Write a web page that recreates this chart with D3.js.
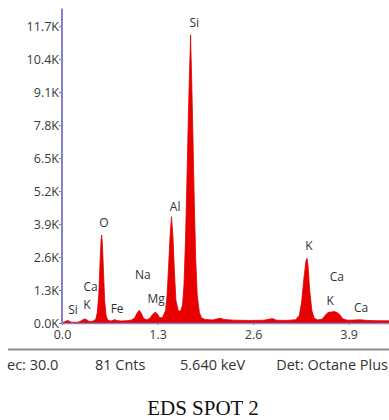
<!DOCTYPE html>
<html>
<head>
<meta charset="utf-8">
<script src="https://cdn.jsdelivr.net/npm/d3@7"></script>
<style>
  html, body { margin: 0; padding: 0; background: #fff; }
  svg { display: block; }
</style>
</head>
<body>
<svg id="chart" width="389" height="420"></svg>
<script>
// EDS spectrum: energy (keV) and counts
const energyKeV = [
  0.00, 0.03, 0.06, 0.08, 0.10, 0.13, 0.18, 0.23, 0.27, 0.30, 0.33, 0.37, 0.42, 0.46,
  0.48, 0.50, 0.515, 0.53, 0.54, 0.55, 0.565, 0.58, 0.60, 0.62, 0.66, 0.70, 0.72, 0.74,
  0.80, 0.88, 0.95, 0.99, 1.02, 1.05, 1.08, 1.11, 1.15, 1.19, 1.23, 1.27, 1.30, 1.33,
  1.37, 1.41, 1.43, 1.45, 1.47, 1.49, 1.51, 1.53, 1.55, 1.58, 1.61, 1.64, 1.66, 1.68,
  1.70, 1.72, 1.735, 1.745, 1.75, 1.755, 1.765, 1.78, 1.80, 1.82, 1.84, 1.87, 1.90, 1.95,
  2.05, 2.12, 2.16, 2.20, 2.35, 2.55, 2.75, 2.83, 2.87, 2.92, 3.05, 3.18, 3.23, 3.26,
  3.29, 3.32, 3.335, 3.35, 3.37, 3.40, 3.43, 3.48, 3.54, 3.58, 3.62, 3.66, 3.70, 3.74,
  3.78, 3.82, 3.88, 4.00, 4.05, 4.15, 4.30, 4.45, 4.60
];
const counts = [
  0, 40, 80, 100, 70, 30, 25, 40, 100, 160, 140, 60, 70, 150,
  400, 1100, 2200, 3200, 3470, 3100, 2000, 900, 300, 120, 80, 110, 140, 100,
  80, 90, 120, 200, 380, 500, 380, 180, 130, 170, 330, 430, 350, 200,
  230, 500, 1100, 2200, 3400, 4190, 3400, 2000, 900, 500, 450, 700, 1500, 3200,
  5600, 8200, 9900, 10800, 11360, 10700, 9600, 7600, 4800, 2500, 1100, 400, 200, 140,
  120, 170, 190, 140, 110, 100, 110, 160, 170, 110, 100, 130, 300, 800,
  1700, 2450, 2550, 2200, 1300, 500, 200, 120, 150, 300, 410, 430, 450, 420,
  330, 170, 110, 120, 130, 100, 90, 85, 80
];

// Axis ticks
const yTicks = [0, 1300, 2600, 3900, 5200, 6500, 7800, 9100, 10400, 11700];
const xTicks = [0.0, 1.3, 2.6, 3.9];

// Element line labels: name, energy position (keV), height (counts)
const peakNames  = ["Si", "K", "Ca", "O", "Fe", "Na", "Mg", "Al", "Si", "K", "Ca", "K", "Ca"];
const peakKeV    = [0.15, 0.34, 0.39, 0.57, 0.75, 1.10, 1.28, 1.54, 1.80, 3.36, 3.74, 3.65, 4.07];
const peakCounts = [513, 710, 1420, 3980, 590, 1930, 985, 4610, 11850, 3075, 1815, 905, 630];

// Acquisition status line (last item is right-aligned to the edge)
const statusTexts = ["ec: 30.0", "81 Cnts", "5.640 keV", "Det: Octane Plus"];
const statusX = [7, 95, 180, 388];
const statusAnchor = ["start", "start", "start", "end"];

const title = "EDS SPOT 2";

const svg = d3.select("#chart");
const x = d3.scaleLinear().domain([0, 4.45]).range([62, 389]);
const y = d3.scaleLinear().domain([0, 12400]).range([323, 8.5]);

const spectrum = energyKeV.map((e, i) => ({ e, c: counts[i] }));

// Filled spectrum
const area = d3.area()
  .x(d => x(d.e))
  .y0(y(0))
  .y1(d => y(d.c));
svg.append("path")
  .datum(spectrum)
  .attr("d", area)
  .attr("fill", "#e80000")
  .attr("stroke", "#e00000")
  .attr("stroke-width", 0.8);

// Y axis
const yAxis = d3.axisLeft(y)
  .tickValues(yTicks)
  .tickSize(3)
  .tickFormat(d => (d / 1000).toFixed(1) + "K");
const gy = svg.append("g").attr("transform", "translate(62,0)").call(yAxis);
gy.select(".domain").remove();
gy.selectAll(".tick line").attr("stroke", "#777");
gy.selectAll(".tick text")
  .attr("x", -3)
  .attr("fill", "#3a3a3a")
  .style("font-family", "'Open Sans', 'DejaVu Sans', sans-serif")
  .style("font-size", "12.5px");
svg.append("line")
  .attr("x1", 62).attr("x2", 62)
  .attr("y1", y.range()[1]).attr("y2", y(0) + 1)
  .attr("stroke", "#8383cc").attr("stroke-width", 2);

// X axis
const xAxis = d3.axisBottom(x)
  .tickValues(xTicks)
  .tickSize(2)
  .tickFormat(d3.format(".1f"));
const gx = svg.append("g").attr("transform", `translate(0,${y(0)})`).call(xAxis);
gx.select(".domain").remove();
gx.selectAll(".tick line").attr("stroke", "#777");
gx.selectAll(".tick text")
  .attr("y", 7)
  .attr("fill", "#3a3a3a")
  .style("font-family", "'Open Sans', 'DejaVu Sans', sans-serif")
  .style("font-size", "12.5px");
svg.append("line")
  .attr("x1", 61).attr("x2", 389)
  .attr("y1", y(0) + 0.5).attr("y2", y(0) + 0.5)
  .attr("stroke", "#8a7fd0").attr("stroke-width", 1.6);

// Element labels
svg.append("g")
  .selectAll("text")
  .data(peakNames)
  .join("text")
  .attr("x", (d, i) => x(peakKeV[i]))
  .attr("y", (d, i) => y(peakCounts[i]))
  .attr("text-anchor", "middle")
  .attr("dominant-baseline", "central")
  .attr("fill", "#333")
  .style("font-family", "'Open Sans', 'DejaVu Sans', sans-serif")
  .style("font-size", "12px")
  .text(d => d);

// Separator line
svg.append("line")
  .attr("x1", 8).attr("x2", 389)
  .attr("y1", 349.5).attr("y2", 349.5)
  .attr("stroke", "#8e8e8e").attr("stroke-width", 2);

// Status line
svg.append("g")
  .selectAll("text")
  .data(statusTexts)
  .join("text")
  .attr("x", (d, i) => statusX[i])
  .attr("y", 369.5)
  .attr("text-anchor", (d, i) => statusAnchor[i])
  .attr("fill", "#333")
  .style("font-family", "'Open Sans', 'DejaVu Sans', sans-serif")
  .style("font-size", "14.5px")
  .text(d => d);

// Caption
svg.append("text")
  .attr("x", 203)
  .attr("y", 415)
  .attr("text-anchor", "middle")
  .attr("fill", "#111")
  .style("font-family", "'Liberation Serif', 'Times New Roman', serif")
  .style("font-size", "21px")
  .text(title);
</script>
</body>
</html>
